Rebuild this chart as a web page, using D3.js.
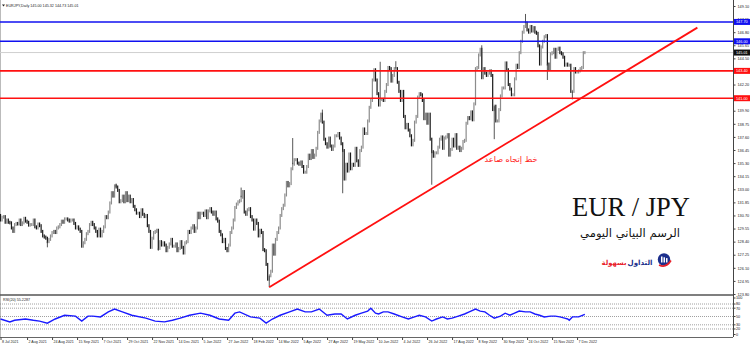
<!DOCTYPE html>
<html>
<head>
<meta charset="utf-8">
<script src="https://cdn.jsdelivr.net/npm/d3@7"></script>
<style>
body { margin: 0; background: #fff; }
svg { display: block; }
</style>
</head>
<body>
<div id="chart"></div>
<script>
/*
*    EURJPY daily with RSI panel
*/

var W = 750, H = 346;

// daily closes, 8 Jul 2021 .. 14 Dec 2022 (one value per trading day)
var closes = [
  130.30, 130.55,
  130.60, 130.10, 130.30, 130.10, 130.05,
  129.60, 129.30, 129.90, 130.00, 129.95,
  130.30, 129.90, 130.05, 130.45, 130.20,
  130.10, 129.85, 129.90, 129.90, 130.30,
  129.70, 129.60, 129.95, 129.80, 129.30,
  128.90, 128.80, 128.70, 128.40, 128.60,
  128.90, 129.20, 129.30, 129.20, 129.60,
  129.70, 129.90, 130.20, 130.10, 130.40,
  130.40, 130.30, 130.20, 130.30, 130.30,
  130.00, 129.60, 129.70, 129.50, 129.30,
  128.00, 128.30, 128.60, 129.10, 129.30,
  129.90, 130.10, 129.90, 129.60, 129.30,
  128.90, 129.50, 128.90, 129.30, 129.70,
  130.60, 130.50, 131.00, 131.80, 132.70,
  132.40, 133.30, 133.20, 132.90, 131.90,
  132.00, 132.40, 131.90, 132.70, 132.00,
  132.40, 131.90, 132.10, 131.50, 131.20,
  130.90, 130.90, 130.60, 131.20, 130.80,
  130.60, 130.70, 129.80, 129.30, 127.90,
  128.70, 129.20, 129.30, 129.40, 127.80,
  128.40, 128.10, 128.30, 128.10, 127.60,
  127.90, 128.20, 128.60, 128.00, 128.00,
  128.20, 127.60, 127.80, 128.40, 127.90,
  127.40, 128.30, 128.40, 129.30, 129.20,
  129.60, 129.80, 129.30, 129.60, 130.90,
  130.50, 130.90, 130.90, 130.70, 131.10,
  130.50, 131.10, 131.30, 131.00, 130.80,
  131.00, 130.40, 130.20, 129.30, 129.00,
  128.40, 128.60, 127.80, 127.60, 128.10,
  129.20, 129.60, 130.30, 131.40, 131.70,
  131.90, 132.00, 132.30, 132.80, 131.00,
  130.80, 131.20, 131.30, 130.60, 130.30,
  129.50, 130.30, 130.00, 128.90, 129.40,
  129.20, 127.70, 127.60, 126.40, 125.10,
  125.40, 125.80, 128.10, 127.30, 128.60,
  129.20, 129.60, 130.70, 131.30, 131.60,
  132.50, 133.60, 133.30, 133.50, 134.80,
  135.20, 135.60, 135.60, 135.30, 135.20,
  135.40, 135.00, 134.50, 134.50, 135.00,
  136.00, 135.70, 136.40, 135.80, 136.00,
  136.60, 138.00, 139.00, 139.60, 138.90,
  137.40, 137.00, 136.70, 137.50, 136.80,
  136.50, 136.80, 137.70, 137.70, 137.90,
  137.50, 137.00, 136.40, 133.90, 135.20,
  134.60, 136.10, 134.80, 135.20, 135.10,
  136.60, 135.50, 135.10, 136.40, 136.70,
  138.30, 137.90, 137.90, 139.00, 140.20,
  140.80, 142.60, 143.50, 142.60, 141.40,
  140.40, 140.90, 140.90, 140.80, 141.60,
  142.20, 143.70, 143.60, 142.50, 143.00,
  143.60, 143.60, 142.40, 141.60, 140.80,
  141.60, 139.40, 138.40, 138.70, 138.20,
  137.70, 136.90, 137.30, 138.90, 139.40,
  141.10, 141.40, 141.30, 140.80, 139.20,
  139.60, 138.80, 139.60, 137.40, 136.30,
  135.90, 136.20, 136.20, 136.70, 137.40,
  137.60, 136.60, 137.50, 137.60, 137.80,
  136.00, 136.50, 137.40, 136.80, 137.80,
  136.60, 136.70, 136.40, 136.60, 137.20,
  137.30, 138.80, 139.30, 139.20, 139.80,
  139.10, 140.50, 143.60, 143.70, 144.80,
  145.30, 142.80, 143.60, 143.20, 143.00,
  143.20, 143.40, 143.00, 140.00, 140.30,
  139.00, 139.00, 140.00, 141.20, 141.90,
  141.90, 144.10, 143.50, 142.20, 141.80,
  141.30, 141.30, 142.70, 143.90, 143.70,
  145.00, 146.00, 146.80, 147.30, 147.60,
  147.00, 146.80, 147.30, 146.90, 147.20,
  146.80, 146.70, 145.60, 144.00, 145.50,
  146.00, 146.40, 146.50, 144.00, 143.60,
  144.90, 145.00, 145.30, 144.60, 145.30,
  145.40, 145.00, 144.90, 144.60, 143.90,
  144.00, 143.90, 143.90, 141.60, 141.60,
  143.60, 143.30, 143.30, 143.40, 143.60,
  143.70, 145.00, 145.01
];
var firstOpen = 130.70;

// long wicks visible on the chart: bar index and extreme price
var spikeBars = [30, 74, 101, 154, 172, 187, 206, 219, 243, 253, 276, 308, 316, 336, 350, 366];
var spikePrices = [127.90, 133.50, 127.60, 133.15, 124.40, 137.50, 140.00, 132.65, 144.20, 144.25, 133.40, 145.65, 137.40, 148.40, 142.60, 140.90];

// RSI: bar index and value
var rsiBars = [0, 6, 9, 16, 21, 25, 30, 35, 41, 48, 52, 56, 59, 64, 69, 73, 78, 84, 93, 99,
  105, 110, 115, 121, 128, 134, 140, 146, 150, 153, 160, 166, 170, 174, 179, 185, 190, 195, 199, 204,
  209, 214, 218, 222, 227, 231, 235, 237, 240, 242, 245, 248, 252, 257, 261, 265, 268, 272, 276, 279,
  283, 286, 289, 293, 297, 300, 304, 307, 310, 313, 316, 320, 323, 326, 329, 332, 336, 339, 342, 345,
  348, 352, 355, 358, 361, 363, 364, 366, 370, 374];
var rsiValues = [44, 37, 41, 44, 41, 39, 34, 44, 53, 51, 39, 51, 51, 49, 61, 68, 61, 53, 46, 39,
  37, 41, 46, 53, 58, 53, 44, 41, 58, 61, 49, 46, 34, 44, 53, 61, 68, 61, 61, 68,
  53, 56, 56, 44, 53, 58, 63, 70, 58, 56, 61, 61, 56, 49, 44, 49, 53, 49, 39, 44,
  49, 44, 46, 51, 56, 61, 68, 63, 61, 53, 46, 51, 58, 53, 58, 63, 61, 61, 56, 53,
  49, 51, 51, 49, 46, 44, 41, 49, 49, 55];

var priceTicks = [123.80, 124.95, 126.10, 127.25, 128.40, 129.55, 130.70, 131.85, 133.00, 134.15,
  135.30, 136.45, 137.60, 138.75, 139.90, 141.05, 142.20, 143.35, 144.50, 145.65, 146.80, 147.95, 149.10];
var rsiTicks = [100, 80, 70, 50, 30, 20, 0];
var rsiLevels = [80, 70, 50, 30, 20];

var dateBars = [0, 17, 33, 49, 65, 81, 97, 113, 129, 145, 161, 177, 193, 209, 225, 241, 257, 273, 289, 305, 321, 337, 353, 369];
var dateLabels = ["8 Jul 2021", "2 Aug 2021", "24 Aug 2021", "15 Sep 2021", "7 Oct 2021", "29 Oct 2021",
  "22 Nov 2021", "14 Dec 2021", "5 Jan 2022", "27 Jan 2022", "18 Feb 2022", "14 Mar 2022", "5 Apr 2022",
  "27 Apr 2022", "19 May 2022", "10 Jun 2022", "4 Jul 2022", "26 Jul 2022", "17 Aug 2022", "8 Sep 2022",
  "30 Sep 2022", "24 Oct 2022", "15 Nov 2022", "7 Dec 2022"];

var blueLevels = [147.70, 146.00];
var redLevels = [143.40, 141.00];
var lastPrice = 145.01;
// trend line: bar index / price at both ends
var trendBars = [172, 446];
var trendPrices = [124.40, 147.20];

var axisX = 733;
var svg = d3.select("#chart").append("svg").attr("width", W).attr("height", H)
  .style("font-family", "'Liberation Sans', Arial, sans-serif");

var x = d3.scaleLinear().domain([0, 469]).range([0.5, 0.5 + 469 * 1.5625]);
var y = d3.scaleLinear().domain([123.80, 149.10]).range([294, 6]);
var yRsi = d3.scaleLinear().domain([0, 100]).range([337.3, 295.7]);

// frame
svg.append("line").attr("x1", 0.5).attr("x2", 0.5).attr("y1", 0).attr("y2", 337).attr("stroke", "#bbb");
svg.append("line").attr("x1", axisX + 0.5).attr("x2", axisX + 0.5).attr("y1", 0).attr("y2", 337).attr("stroke", "#444");
svg.append("line").attr("x1", 0).attr("x2", axisX).attr("y1", 295).attr("y2", 295).attr("stroke", "#555").attr("stroke-width", 1.6);
svg.append("line").attr("x1", 0).attr("x2", axisX).attr("y1", 337.5).attr("y2", 337.5).attr("stroke", "#666");

// price axis
var yAxis = d3.axisRight(y).tickValues(priceTicks).tickFormat(d3.format(".2f")).tickSize(2).tickSizeOuter(0).tickPadding(2);
var yAxisGroup = svg.append("g").attr("transform", "translate(" + (axisX + 0.5) + ",0)").call(yAxis);
yAxisGroup.select(".domain").remove();
yAxisGroup.selectAll("text").attr("font-size", "3.8px").attr("fill", "#222").attr("font-family", "'Liberation Sans', Arial, sans-serif");
yAxisGroup.selectAll("line").attr("stroke", "#444");

// rsi axis
var rsiAxisGroup = svg.append("g");
rsiTicks.forEach(function(v) {
  var yy = Math.max(298, Math.min(334.5, yRsi(v)));
  rsiAxisGroup.append("line").attr("x1", axisX + 0.5).attr("x2", axisX + 2.5).attr("y1", yy).attr("y2", yy).attr("stroke", "#444");
  rsiAxisGroup.append("text").attr("x", axisX + 3).attr("y", yy).attr("dy", "0.35em").attr("font-size", "3.8px").attr("fill", "#222").text(v);
});

// date axis
var xAxis = d3.axisBottom(x).tickValues(dateBars).tickFormat(function(d, i) { return dateLabels[i]; }).tickSize(2.5).tickSizeOuter(0);
var xAxisGroup = svg.append("g").attr("transform", "translate(0,337.5)").call(xAxis);
xAxisGroup.select(".domain").remove();
xAxisGroup.selectAll("line").attr("stroke", "#444");
xAxisGroup.selectAll("text").attr("font-size", "3.6px").attr("fill", "#222").attr("text-anchor", "start")
  .attr("x", 1).attr("y", 3.3).attr("font-family", "'Liberation Sans', Arial, sans-serif");

// current price guide
svg.append("line").attr("x1", 0).attr("x2", axisX).attr("y1", y(lastPrice)).attr("y2", y(lastPrice)).attr("stroke", "#cfcfcf");

// candles (open = previous close)
var bars = closes.map(function(c, i) { return {i: i, open: i ? closes[i - 1] : firstOpen, close: c}; });
svg.append("g").selectAll("rect").data(bars).join("rect")
  .attr("x", function(d) { return x(d.i) - 0.6; })
  .attr("width", 1.2)
  .attr("y", function(d) { return y(Math.max(d.open, d.close)) - 1.5; })
  .attr("height", function(d) { return Math.abs(y(d.open) - y(d.close)) + 3; })
  .attr("fill", function(d) { return d.close >= d.open ? "#8c8c8c" : "#1a1a1a"; });

// long wicks
svg.append("g").selectAll("line").data(spikeBars).join("line")
  .attr("x1", function(d) { return x(d); }).attr("x2", function(d) { return x(d); })
  .attr("y1", function(d, i) { return y(spikePrices[i]); })
  .attr("y2", function(d) { return y(closes[d]); })
  .attr("stroke", "#444").attr("stroke-width", 0.9);

// horizontal levels
svg.append("g").selectAll("line").data(blueLevels).join("line")
  .attr("x1", 0).attr("x2", axisX).attr("y1", function(d) { return y(d); }).attr("y2", function(d) { return y(d); })
  .attr("stroke", "#1010f0").attr("stroke-width", 1.6);
svg.append("g").selectAll("line").data(redLevels).join("line")
  .attr("x1", 0).attr("x2", axisX).attr("y1", function(d) { return y(d); }).attr("y2", function(d) { return y(d); })
  .attr("stroke", "#ff1010").attr("stroke-width", 1.6);

// trend line
svg.append("line")
  .attr("x1", x(trendBars[0])).attr("y1", y(trendPrices[0]))
  .attr("x2", x(trendBars[1])).attr("y2", y(trendPrices[1]))
  .attr("stroke", "#ff1010").attr("stroke-width", 1.8);

// axis price tags
function priceTag(v, color) {
  var g = svg.append("g");
  g.append("rect").attr("x", axisX + 1).attr("y", y(v) - 3).attr("width", 16).attr("height", 6).attr("fill", color);
  g.append("text").attr("x", axisX + 3).attr("y", y(v)).attr("dy", "0.35em").attr("font-size", "3.8px").attr("fill", "#fff").text(d3.format(".2f")(v));
}
blueLevels.forEach(function(v) { priceTag(v, "#1010f0"); });
redLevels.forEach(function(v) { priceTag(v, "#ff1010"); });
priceTag(lastPrice, "#111");

// rsi panel
svg.append("g").selectAll("line").data(rsiLevels).join("line")
  .attr("x1", 0).attr("x2", axisX).attr("y1", function(d) { return yRsi(d); }).attr("y2", function(d) { return yRsi(d); })
  .attr("stroke", "#777").attr("stroke-width", 0.7).attr("stroke-dasharray", "1,1");
var rsiLine = d3.line().x(function(d, i) { return x(rsiBars[i]); }).y(function(d) { return yRsi(d); });
svg.append("path").datum(rsiValues).attr("d", rsiLine).attr("fill", "none").attr("stroke", "#1a1aff").attr("stroke-width", 1.4);

// headers
svg.append("path").attr("d", "M2,4.5 L5,4.5 L3.5,6.5 Z").attr("fill", "#222");
svg.append("text").attr("x", 6).attr("y", 6.6).attr("font-size", "3.7px").attr("fill", "#222")
  .text("EURJPY,Daily  145.00 145.32 144.73 145.01");
svg.append("text").attr("x", 3).attr("y", 301).attr("font-size", "3.7px").attr("fill", "#222")
  .text("RSI(20) 55.2287");

// overlay texts
function fitText(sel, width) {
  var len = sel.node().getComputedTextLength();
  var fs = parseFloat(sel.attr("font-size"));
  sel.attr("font-size", (fs * width / len) + "px");
}
var t1 = svg.append("text").attr("x", 511).attr("y", 162).attr("text-anchor", "middle").attr("font-size", "8px")
  .attr("font-family", "'DejaVu Sans', sans-serif").attr("fill", "#ff2020").text("خط إتجاه صاعد");
fitText(t1, 53);
svg.append("text").attr("x", 631).attr("y", 216).attr("text-anchor", "middle").attr("font-size", "26.5px")
  .attr("font-family", "'Liberation Serif', 'Times New Roman', serif").attr("fill", "#111").text("EUR / JPY");
var t2 = svg.append("text").attr("x", 630).attr("y", 237).attr("text-anchor", "middle").attr("font-size", "12px")
  .attr("font-family", "'DejaVu Sans', sans-serif").attr("fill", "#111").text("الرسم البياني اليومي");
fitText(t2, 100);

// logo
var t3 = svg.append("text").attr("x", 640).attr("y", 264.5).attr("text-anchor", "middle").attr("font-size", "9px")
  .attr("font-weight", "bold").attr("font-family", "'DejaVu Sans', sans-serif").attr("fill", "#1c2f8c").text("التداول");
fitText(t3, 25);
var t4 = svg.append("text").attr("x", 614).attr("y", 264.5).attr("text-anchor", "middle").attr("font-size", "9px")
  .attr("font-weight", "bold").attr("font-family", "'DejaVu Sans', sans-serif").attr("fill", "#e8202a").text("بسهولة");
fitText(t4, 25);
var logo = svg.append("g").attr("transform", "translate(664,259.5)");
logo.append("circle").attr("r", 6.2).attr("fill", "#1c2f8c");
[-3, -0.5, 2].forEach(function(dx, k) {
  logo.append("rect").attr("x", dx).attr("y", -3 + k * 0.8).attr("width", 1.5).attr("height", 6 - k * 0.8).attr("fill", "#fff");
});
logo.append("path").attr("d", "M-5,5.5 Q2,9 7,1").attr("fill", "none").attr("stroke", "#e8202a").attr("stroke-width", 1.6);
</script>
</body>
</html>
